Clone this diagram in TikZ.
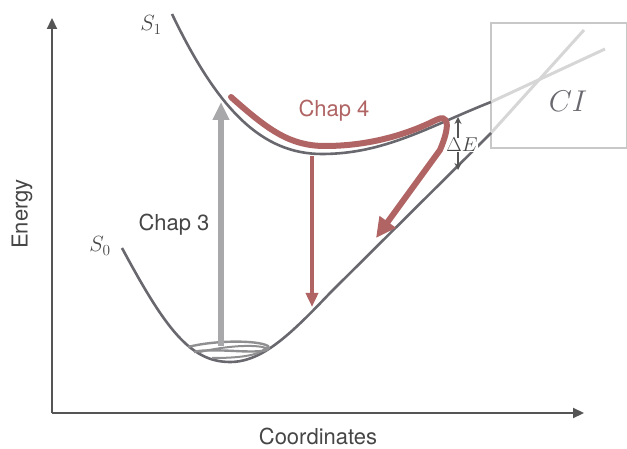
\RequirePackage{fix-cm}
\documentclass[tikz,border=0pt]{standalone}
\usepackage{fontspec}
\setmainfont{TeX Gyre Heros}
\usetikzlibrary{arrows.meta}
\definecolor{axisgray}{RGB}{85,85,85}
\definecolor{curvegray}{RGB}{104,104,110}
\definecolor{lightline}{RGB}{214,214,214}
\definecolor{boxgray}{RGB}{200,200,200}
\definecolor{chapred}{RGB}{176,100,100}
\definecolor{chapgray}{RGB}{168,168,170}
\definecolor{txtgray}{RGB}{70,70,70}
\tikzset{
  axisline/.style={draw=axisgray, line width=2.2pt, -{Triangle[length=11pt,width=10pt]}},
  pes/.style={draw=curvegray, line width=2.6pt},
  pesfaint/.style={draw=lightline, line width=3pt},
  redpath/.style={draw=chapred, line width=6pt, line cap=round, -{Triangle[length=20pt,width=19pt]}},
  redarrow/.style={draw=chapred, line width=3.6pt, -{Triangle[length=14pt,width=12pt]}},
  grayarrow/.style={draw=chapgray, line width=6pt, -{Triangle[length=18pt,width=16pt]}},
  lbl/.style={font=\fontsize{22}{26}\selectfont, text=txtgray, inner sep=0pt},
  mlbl/.style={font=\fontsize{22}{26}\selectfont, text=txtgray, inner sep=0pt},
}
\begin{document}
\begin{tikzpicture}[x=1pt,y=-1pt]
\useasboundingbox (0,0) rectangle (627,449);
% axes
\coordinate (O) at (52,413);
\coordinate (ytop) at (52,18);
\coordinate (xend) at (584,413);
\draw[axisline] (O) -- (ytop);
\draw[axisline] (O) -- (xend);
\node[lbl, rotate=90] (energy) at (22,214) {Energy};
\node[lbl] (coord) at (318,436) {Coordinates};
% CI box
\draw[boxgray, line width=1.1pt] (491,23) rectangle (627,148);
\node[mlbl, font=\fontsize{30}{34}\selectfont, text=curvegray] (ci) at (568,101) {$CI$};
% faint continuations
\coordinate (s0box) at (491,133);
\coordinate (s1box) at (491,102);
\coordinate (s0end) at (584,30);
\coordinate (s1end) at (605,49);
\draw[pesfaint] (s0box) -- (s0end);
\draw[pesfaint] (s1box) -- (s1end);
% S0
\draw[pes] (122,248) .. controls (165,328) and (190,362) .. (230,362)
  .. controls (262,362) and (290,335) .. (330,293) -- (s0box);
% S1
\draw[pes] (172,14) .. controls (218,110) and (262,154) .. (322,154)
  .. controls (385,154) and (430,126) .. (s1box);
\node[mlbl] (s1lbl) at (151,25) {$S_1$};
\node[mlbl] (s0lbl) at (100,246) {$S_0$};
% Delta E
\coordinate (dEtop) at (458,117);
\coordinate (dEbot) at (458,170);
\draw[draw=axisgray, line width=1.4pt, {Stealth[length=7pt,width=7pt]}-{Stealth[length=7pt,width=7pt]}] (dEtop) -- (dEbot);
\node[mlbl, fill=white, inner sep=0.5pt, font=\fontsize{20}{24}\selectfont] (dE) at (462,145) {$\Delta E$};
% vibrational wiggle
\draw[chapgray!85!black, line width=2.4pt]
  (188,347) .. controls (215,340) and (258,340) .. (268,346)
  .. controls (273,352) and (255,352) .. (235,351)
  .. controls (215,350) and (200,350) .. (194,352);
\draw[chapgray!85!black, line width=2pt]
  (200,352) .. controls (225,346) and (255,344) .. (266,348)
  .. controls (258,356) and (238,358) .. (212,358);
% Chap 3 arrow
\coordinate (c3start) at (221,346);
\coordinate (c3end) at (221,102);
\draw[grayarrow] (c3start) -- (c3end);
\node[lbl] (chap3) at (174,225) {Chap 3};
% Chap 4
\coordinate (c4start) at (231,97);
\coordinate (c4tip) at (376,238);
\draw[redpath] (c4start) .. controls (268,130) and (290,146) .. (325,146)
  .. controls (380,146) and (420,128) .. (436,120)
  .. controls (448,114) and (451,124) .. (440,150)
  -- (c4tip);
\coordinate (r1) at (312,156);
\coordinate (r2) at (312,307);
\draw[redarrow] (r1) -- (r2);
\node[lbl, text=chapred] (chap4) at (334,111) {Chap 4};
\end{tikzpicture}
\end{document}
